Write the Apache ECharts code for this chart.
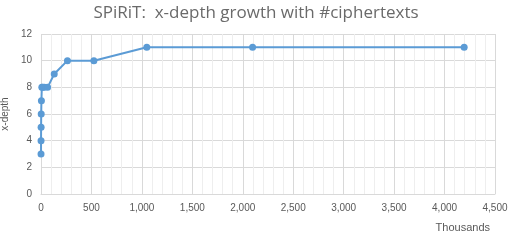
<!DOCTYPE html>
<html>
<head>
<meta charset="utf-8">
<script src="https://cdn.jsdelivr.net/npm/echarts@6/dist/echarts.min.js"></script>
<style>
	html, body { margin: 0; padding: 0; background: #fff; }
	#chart { width: 512px; height: 250px; }
</style>
</head>
<body>
<div id="chart"></div>
<script>
	// ciphertext count (thousands) and x-depth
	var xData = [0.256, 0.512, 1.024, 2.048, 4.096, 8.192, 16.384, 32.768, 65.536, 131.072, 262.144, 524.288, 1048.576, 2097.152, 4194.304];
	var yData = [3, 4, 5, 6, 7, 8, 8, 8, 8, 9, 10, 10, 11, 11, 11];

	var points = [];
	for(var i = 0; i < xData.length; i++) {
		points.push([xData[i], yData[i]]);
	}

	var myChart = echarts.init(document.getElementById('chart'));
	var grey = '#595959';
	var gridColor = '#d9d9d9';

	var option = {
		animation: false,
		title: {
			text: 'SPiRiT:  x-depth growth with #ciphertexts',
			left: 'center',
			top: 0,
			textStyle: {
				color: '#6a6a6a',
				fontSize: 17,
				fontWeight: 'normal',
				fontFamily: 'Open Sans'
			}
		},
		grid: {
			left: 41,
			right: 17,
			top: 34,
			bottom: 56,
			containLabel: false,
			outerBoundsMode: 'none'
		},
		xAxis: {
			type: 'value',
			min: 0,
			max: 4500,
			interval: 500,
			name: 'Thousands',
			nameLocation: 'end',
			nameGap: 0,
			nameTextStyle: {
				color: grey,
				fontSize: 11,
				align: 'right',
				verticalAlign: 'top',
				padding: [28, 5, 0, 0]
			},
			axisLine: { lineStyle: { color: gridColor } },
			axisTick: { show: false },
			axisLabel: {
				color: grey,
				fontSize: 10,
				margin: 9,
				formatter: function(v) {
					return v.toLocaleString('en-US');
				}
			},
			splitLine: { lineStyle: { color: gridColor } },
			minorTick: { show: false, splitNumber: 5 },
			minorSplitLine: { show: true, lineStyle: { color: '#eeeeee' } }
		},
		yAxis: {
			type: 'value',
			min: 0,
			max: 12,
			interval: 2,
			name: 'x-depth',
			nameLocation: 'middle',
			nameGap: 30,
			nameTextStyle: { color: grey, fontSize: 10 },
			axisLine: { show: false },
			axisTick: { show: false },
			axisLabel: { color: grey, fontSize: 10, margin: 9 },
			splitLine: { lineStyle: { color: gridColor } }
		},
		series: [{
			type: 'line',
			data: points,
			symbol: 'circle',
			symbolSize: 7,
			lineStyle: { color: '#5b9bd5', width: 2 },
			itemStyle: { color: '#5b9bd5' }
		}]
	};
	myChart.setOption(option);
</script>
</body>
</html>
